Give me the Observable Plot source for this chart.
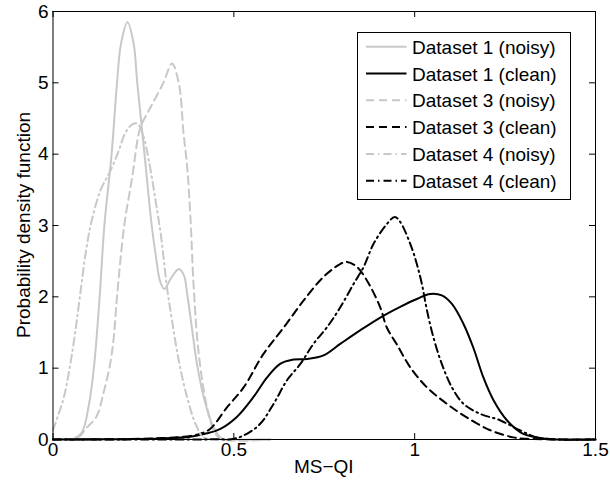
<!DOCTYPE html>
<html>
<head>
<meta charset="utf-8">
<script src="https://cdn.jsdelivr.net/npm/d3@7"></script>
<script src="https://cdn.jsdelivr.net/npm/@observablehq/plot@0.6"></script>
<style>
  html, body { margin: 0; padding: 0; background: #fff; }
  #chart { width: 610px; height: 491px; }
</style>
</head>
<body>
<div id="chart"></div>
<script>
// ---- Data ----
const xTicks = [0, 0.5, 1, 1.5];
const xTickLabels = ["0", "0.5", "1", "1.5"];
const yTicks = [0, 1, 2, 3, 4, 5, 6];
const yTickLabels = ["0", "1", "2", "3", "4", "5", "6"];

const seriesNames = [
  "Dataset 1 (noisy)", "Dataset 1 (clean)",
  "Dataset 3 (noisy)", "Dataset 3 (clean)",
  "Dataset 4 (noisy)", "Dataset 4 (clean)"
];

const d1NoisyX = [0, 0.04, 0.058, 0.08, 0.099, 0.113, 0.129, 0.142, 0.162, 0.177, 0.188, 0.206, 0.223, 0.233, 0.253, 0.273, 0.285, 0.296, 0.308, 0.325, 0.348, 0.362, 0.371, 0.385, 0.398, 0.417, 0.44, 0.467, 0.5, 0.6];
const d1NoisyY = [0, 0, 0.01, 0.1, 0.48, 1.0, 2.0, 3.0, 4.0, 5.0, 5.55, 5.85, 5.55, 5.0, 4.0, 3.0, 2.55, 2.22, 2.11, 2.25, 2.39, 2.3, 2.04, 1.53, 1.06, 0.59, 0.22, 0.01, 0, 0];

const d1CleanX = [0, 0.2, 0.3, 0.38, 0.42, 0.463, 0.509, 0.555, 0.592, 0.628, 0.665, 0.702, 0.748, 0.794, 0.849, 0.905, 0.96, 1.006, 1.043, 1.075, 1.103, 1.135, 1.162, 1.19, 1.218, 1.255, 1.3, 1.365, 1.4, 1.5];
const d1CleanY = [0, 0.005, 0.015, 0.04, 0.08, 0.15, 0.32, 0.6, 0.87, 1.06, 1.12, 1.13, 1.18, 1.34, 1.53, 1.71, 1.86, 1.97, 2.04, 2.02, 1.9, 1.62, 1.29, 0.87, 0.55, 0.27, 0.08, 0.01, 0, 0];

const d3NoisyX = [0, 0.05, 0.075, 0.09, 0.12, 0.14, 0.158, 0.168, 0.177, 0.197, 0.219, 0.237, 0.246, 0.27, 0.306, 0.329, 0.348, 0.361, 0.371, 0.38, 0.389, 0.403, 0.426, 0.449, 0.47, 0.6];
const d3NoisyY = [0, 0, 0.05, 0.15, 0.32, 0.66, 1.06, 1.43, 2.0, 3.0, 3.68, 4.29, 4.43, 4.66, 5.01, 5.27, 4.99, 4.29, 3.82, 3.12, 2.14, 1.2, 0.45, 0.08, 0, 0];

const d3CleanX = [0, 0.2, 0.3, 0.38, 0.407, 0.435, 0.481, 0.527, 0.582, 0.638, 0.693, 0.748, 0.794, 0.813, 0.84, 0.868, 0.905, 0.923, 0.951, 0.988, 1.034, 1.089, 1.144, 1.209, 1.273, 1.31, 1.4, 1.5];
const d3CleanY = [0, 0.005, 0.02, 0.05, 0.08, 0.15, 0.45, 0.73, 1.2, 1.57, 1.95, 2.28, 2.46, 2.49, 2.42, 2.23, 1.85, 1.57, 1.33, 1.01, 0.73, 0.5, 0.31, 0.13, 0.03, 0.01, 0, 0];

const d4NoisyX = [0, 0.015, 0.03, 0.048, 0.062, 0.076, 0.09, 0.104, 0.131, 0.159, 0.182, 0.2, 0.22, 0.233, 0.25, 0.265, 0.288, 0.3, 0.315, 0.329, 0.348, 0.371, 0.394, 0.416, 0.45, 0.6];
const d4NoisyY = [0.13, 0.35, 0.59, 1.06, 1.53, 2.07, 2.6, 3.0, 3.49, 3.77, 4.05, 4.3, 4.42, 4.43, 4.25, 3.91, 3.21, 2.8, 2.14, 1.67, 1.1, 0.59, 0.22, 0.03, 0, 0];

const d4CleanX = [0, 0.3, 0.45, 0.5, 0.536, 0.573, 0.61, 0.647, 0.684, 0.72, 0.757, 0.794, 0.831, 0.859, 0.886, 0.923, 0.945, 0.96, 0.988, 1.006, 1.02, 1.034, 1.052, 1.075, 1.103, 1.135, 1.181, 1.236, 1.291, 1.338, 1.4, 1.5];
const d4CleanY = [0, 0, 0.003, 0.01, 0.08, 0.22, 0.5, 0.83, 1.06, 1.34, 1.57, 1.85, 2.18, 2.42, 2.74, 3.02, 3.12, 3.05, 2.74, 2.46, 2.18, 1.81, 1.43, 1.06, 0.73, 0.5, 0.36, 0.27, 0.13, 0.03, 0, 0];

// ---- Styles ----
const GRAY = "#c8c8c8";
const BLACK = "#000000";
const DASH = "8,5";
const DASHDOT = "8,4,1.5,4";
const styles = [
  {stroke: GRAY, dash: null},
  {stroke: BLACK, dash: null},
  {stroke: GRAY, dash: DASH},
  {stroke: BLACK, dash: DASH},
  {stroke: GRAY, dash: DASHDOT},
  {stroke: BLACK, dash: DASHDOT}
];
const xs = [d1NoisyX, d1CleanX, d3NoisyX, d3CleanX, d4NoisyX, d4CleanX];
const ys = [d1NoisyY, d1CleanY, d3NoisyY, d3CleanY, d4NoisyY, d4CleanY];

const series = seriesNames.map((name, i) => ({
  name,
  ...styles[i],
  points: xs[i].map((x, j) => ({x, y: ys[i][j]}))
}));

const FONT = "'Liberation Sans', Arial, Helvetica, sans-serif";
const ML = 52.5, MR = 15, MT = 11, MB = 52;
const W = 610, H = 491;
const PW = W - ML - MR, PH = H - MT - MB;
const TICK = 6;

const lineMarks = series.map(s => Plot.line(s.points, {
  x: "x", y: "y",
  stroke: s.stroke,
  strokeWidth: 2,
  strokeDasharray: s.dash || undefined,
  curve: "catmull-rom"
}));

const tickStyle = {stroke: "#000", strokeWidth: 1};

const svg = Plot.plot({
  width: W,
  height: H,
  marginLeft: ML,
  marginRight: MR,
  marginTop: MT,
  marginBottom: MB,
  style: {fontFamily: FONT, fontSize: "19px", color: "#000", background: "#fff"},
  x: {domain: [0, 1.5]},
  y: {domain: [0, 6]},
  marks: [
    ...lineMarks,
    // inward ticks on all four sides (MATLAB box style)
    Plot.ruleX(xTicks, {x: d => d, insetTop: PH - TICK, ...tickStyle}),
    Plot.ruleX(xTicks, {x: d => d, insetBottom: PH - TICK, ...tickStyle}),
    Plot.ruleY(yTicks, {y: d => d, insetRight: PW - TICK, ...tickStyle}),
    Plot.ruleY(yTicks, {y: d => d, insetLeft: PW - TICK, ...tickStyle}),
    Plot.frame({stroke: "#000", strokeWidth: 1}),
    Plot.axisX({anchor: "bottom", ticks: xTicks, tickFormat: (d) => xTickLabels[xTicks.indexOf(d)], tickSize: 0, tickPadding: 3, label: null}),
    Plot.axisY({anchor: "left", ticks: yTicks, tickFormat: (d) => yTickLabels[yTicks.indexOf(d)], tickSize: 0, tickPadding: 4.5, label: null})
  ]
});

document.getElementById("chart").appendChild(svg);

// ---- Axis titles and legend ----
const root = d3.select(svg);
root.append("text")
  .attr("x", (ML + (W - MR)) / 2)
  .attr("y", 473)
  .attr("text-anchor", "middle")
  .attr("font-family", FONT)
  .attr("font-size", 19)
  .attr("fill", "#000")
  .text("MS\u2212QI");
root.append("text")
  .attr("transform", `translate(30,${(MT + (H - MB)) / 2}) rotate(-90)`)
  .attr("text-anchor", "middle")
  .attr("font-family", FONT)
  .attr("font-size", 19)
  .attr("fill", "#000")
  .text("Probability density function");

const lg = root.append("g");
lg.append("rect")
  .attr("x", 357.5).attr("y", 32.5)
  .attr("width", 213).attr("height", 167)
  .attr("fill", "#fff").attr("stroke", "#000").attr("stroke-width", 1);
series.forEach((s, i) => {
  const cy = 46.7 + i * 26.8;
  lg.append("line")
    .attr("x1", 366).attr("x2", 406.5)
    .attr("y1", cy).attr("y2", cy)
    .attr("stroke", s.stroke).attr("stroke-width", 2)
    .attr("stroke-dasharray", s.dash || null);
  lg.append("text")
    .attr("x", 412)
    .attr("y", cy + 7)
    .attr("text-anchor", "start")
    .attr("font-family", FONT)
    .attr("font-size", 19)
    .attr("fill", "#000")
    .text(s.name);
});
</script>
</body>
</html>
